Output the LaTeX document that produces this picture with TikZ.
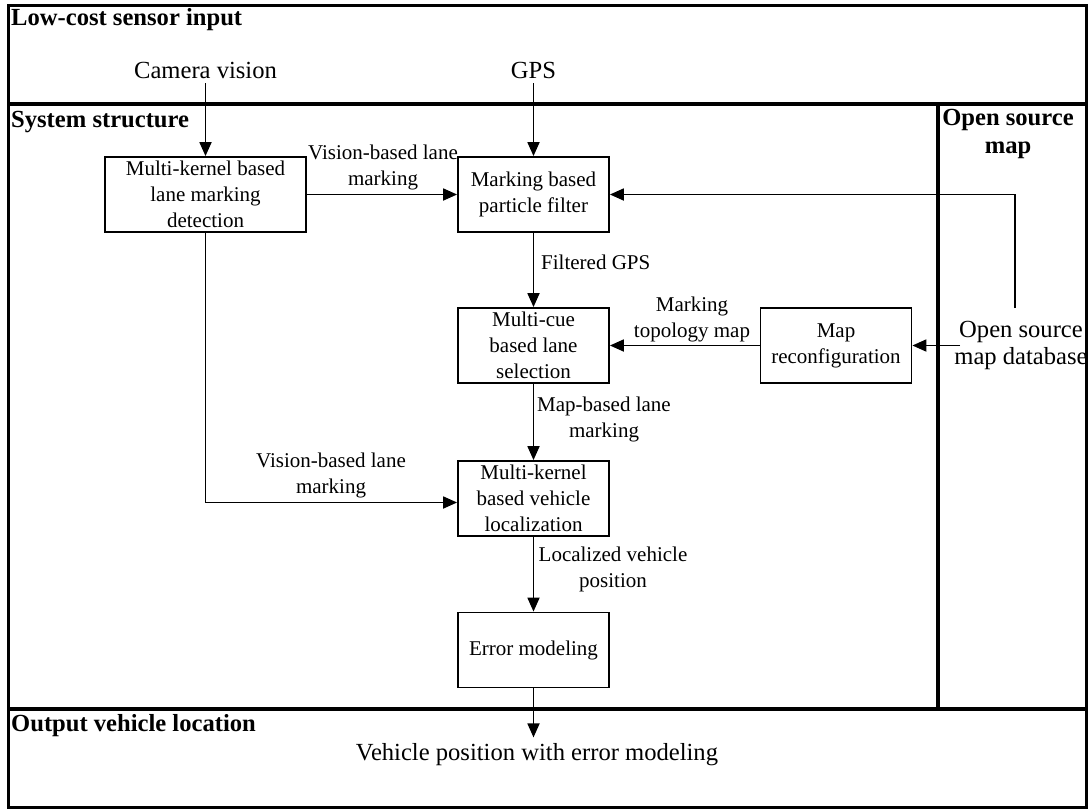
\documentclass[tikz,border=0pt]{standalone}
\usepackage{fontspec}
\setmainfont{Liberation Serif}
\usetikzlibrary{arrows.meta}
\newcommand{\bxf}{\fontsize{21}{26}\selectfont}
\newcommand{\bgf}{\fontsize{24.6}{27.5}\selectfont}
\begin{document}
\begin{tikzpicture}[x=1pt,y=-1pt,
  blk/.style={draw,line width=1.8pt,minimum width=151pt,minimum height=75pt,inner sep=0pt,align=center,font=\bxf},
  lbl/.style={inner sep=0pt,align=center,font=\bxf},
  big/.style={inner sep=0pt,align=center,font=\bgf},
  hdr/.style={inner sep=0pt,font=\bgf\bfseries},
  arr/.style={line width=1.8pt,-{Triangle[length=14pt,width=12pt]}},
  divline/.style={line width=4pt}]
\useasboundingbox (0,0) rectangle (1088,809);
\draw[line width=3pt] (8,5) rectangle (1086,807);
\draw[divline] (8,104) -- (1086,104);
\draw[divline] (8,709) -- (1086,709);
\draw[divline] (938,104) -- (938,709);

\node[hdr,anchor=base west] (h1) at (11,25) {Low-cost sensor input};
\node[hdr,anchor=base west] (h2) at (11,127) {System structure};
\node[hdr,anchor=base west] (h3) at (11,731) {Output vehicle location};
\node[hdr,align=center] (h4) at (1008,134) {Open source\\map};

\node[blk,minimum width=201pt] (A) at (205.5,194.5) {Multi-kernel based\\lane marking\\detection};
\node[blk] (B) at (533.5,194.5) {Marking based\\particle filter};
\node[blk] (C) at (533.5,345.5) {Multi-cue\\based lane\\selection};
\node[blk] (D) at (836,345.5) {Map\\reconfiguration};
\node[blk] (E) at (533.5,498.5) {Multi-kernel\\based vehicle\\localization};
\node[blk] (F) at (533.5,650) {Error modeling};

\node[big,anchor=base] (cam) at (205.5,78) {Camera vision};
\node[big,anchor=base] (gps) at (533.5,78) {GPS};
\node[big] (db) at (1021,345.5) {Open source\\map database};
\node[big,anchor=base] (out) at (537,760) {Vehicle position with error modeling};
\coordinate (dbtop) at (1015,308);

\draw[arr] ([yshift=-5pt]cam.south) -- (A.north);
\draw[arr] ([yshift=-5pt]gps.south) -- (B.north);
\draw[arr] (A.east) -- (B.west);
\draw[arr] (dbtop) |- (B.east);
\draw[arr] ([xshift=6pt]db.west) -- (D.east);
\draw[arr] (D.west) -- (C.east);
\draw[arr] (B.south) -- (C.north);
\draw[arr] (C.south) -- (E.north);
\draw[arr] (A.south) |- ([yshift=-4pt]E.west);
\draw[arr] (E.south) -- (F.north);
\draw[arr] (F.south) -- ++(0,49);

\node[lbl] (l1) at (383,167) {Vision-based lane\\marking};
\node[lbl,anchor=west] (l2) at (541,262) {Filtered GPS};
\node[lbl] (l3) at (692,319) {Marking\\topology map};
\node[lbl] (l4) at (604,419) {Map-based lane\\marking};
\node[lbl] (l5) at (331,475) {Vision-based lane\\marking};
\node[lbl] (l6) at (613,569) {Localized vehicle\\position};
\end{tikzpicture}
\end{document}
